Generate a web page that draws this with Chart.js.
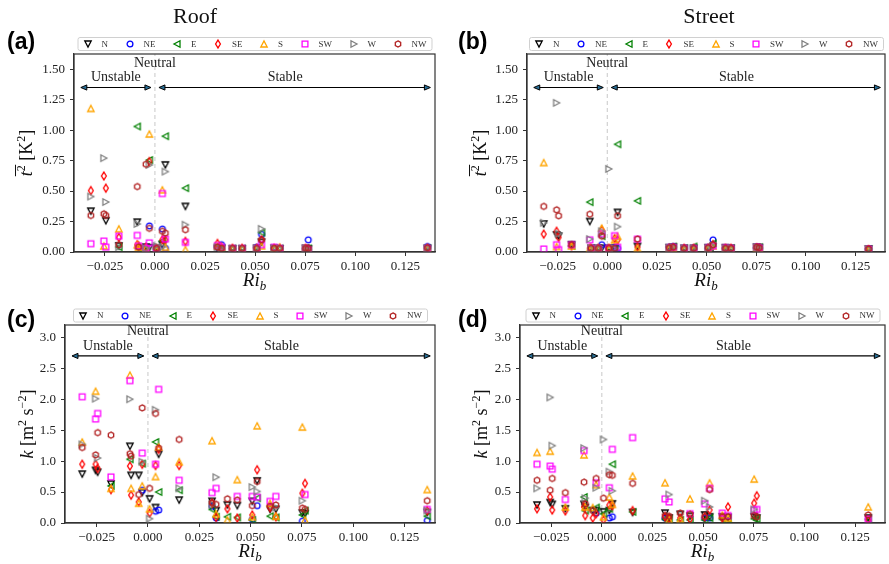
<!DOCTYPE html>
<html><head><meta charset="utf-8">
<script src="https://cdn.jsdelivr.net/npm/chart.js@4.4.0/dist/chart.umd.min.js"></script>
<style>
html,body{margin:0;padding:0;background:#fff;}
#wrap{position:relative;width:889px;height:564px;overflow:hidden;background:#fff;}
#wrap canvas{position:absolute;left:0;top:0;}
</style></head><body><div id="wrap">
<canvas id="pa" width="889" height="564"></canvas>
<canvas id="pb" width="889" height="564"></canvas>
<canvas id="pc" width="889" height="564"></canvas>
<canvas id="pd" width="889" height="564"></canvas>
</div>
<script>
// ---------- DATA ----------
const directions = ['N','NE','E','SE','S','SW','W','NW'];
// bulk Richardson number of each case
const riRoof   = [-0.032,-0.0255,-0.0245,-0.018,-0.0088,-0.0082,-0.0045,-0.0028,0.0008,0.0037,0.0052,0.0152,0.0312,0.0332,0.0387,0.0435,0.0508,0.0532,0.0595,0.0623,0.0752,0.0765,0.136];
const riStreet = [-0.032,-0.0255,-0.0245,-0.018,-0.0088,-0.0082,-0.0045,-0.0028,0.0008,0.0037,0.0052,0.0152,0.0312,0.0332,0.0387,0.0435,0.0508,0.0532,0.0595,0.0623,0.0752,0.0765,0.1315];
const xTicks  = [-0.025, 0, 0.025, 0.05, 0.075, 0.1, 0.125];
const yTicksT = [0, 0.25, 0.5, 0.75, 1, 1.25, 1.5];
const yTicksK = [0, 0.5, 1, 1.5, 2, 2.5, 3];

// (a) Roof temperature variance [K^2]
const tRoofN  = [0.335,null,0.256,0.05,0.245,null,0.04,0.035,0.03,0.06,0.715,0.374,0.03,0.03,0.025,0.025,0.03,0.08,0.03,0.025,0.03,0.025,0.03];
const tRoofNE = [null,null,null,null,null,null,0.02,0.214,0.02,0.188,0.03,null,0.04,0.06,0.025,0.025,0.04,0.145,0.03,0.025,0.025,0.10,0.045];
const tRoofE  = [null,null,null,0.04,1.03,0.03,0.03,0.755,0.03,0.09,0.95,0.524,0.04,0.03,0.03,0.03,0.035,0.16,0.03,0.03,0.03,0.03,0.03];
const tRoofSE = [0.504,0.624,0.524,0.12,0.06,0.05,0.04,0.742,0.03,0.1,0.1,0.087,0.07,0.04,0.03,0.03,0.03,0.1,0.03,0.03,0.03,0.02,0.03];
const tRoofS  = [1.178,0.05,null,0.19,0.06,0.04,0.03,0.968,0.02,0.51,0.04,0.02,0.05,0.04,0.03,0.03,0.03,0.05,0.03,0.04,0.03,0.02,0.03];
const tRoofSW = [0.068,0.09,0.04,0.13,0.136,0.05,0.03,0.075,0.03,0.48,0.106,0.079,0.053,0.04,0.03,0.03,0.03,0.06,0.04,0.03,0.03,0.02,0.03];
const tRoofW  = [0.455,0.77,0.41,0.04,0.23,null,0.03,0.715,0.05,0.04,0.66,0.224,0.04,0.03,0.03,0.03,0.03,0.19,0.03,0.03,0.03,0.02,0.03];
const tRoofNW = [0.30,0.313,0.30,0.06,0.537,0.04,0.72,0.194,0.03,0.17,0.155,0.183,0.04,0.03,0.03,0.03,0.03,0.1,0.03,0.03,0.03,0.03,0.035];

// (b) Street temperature variance [K^2]
const tStreetN  = [0.23,0.14,0.13,0.06,0.25,0.03,0.03,0.03,0.03,0.03,0.325,0.046,0.035,0.04,0.03,0.03,0.035,0.04,0.035,0.03,0.04,0.035,0.025];
const tStreetNE = [null,null,null,null,null,0.03,0.03,0.06,0.03,0.04,0.03,null,0.04,0.045,0.03,0.03,0.035,0.10,0.03,0.03,0.035,0.03,0.025];
const tStreetE  = [null,null,null,0.05,0.409,0.03,0.03,0.13,0.03,0.04,0.884,0.42,0.04,0.045,0.03,0.045,0.03,0.07,0.03,0.03,0.035,0.04,0.025];
const tStreetSE = [0.147,0.17,0.12,0.05,0.03,0.03,0.03,0.18,0.03,0.11,0.10,0.04,0.03,0.035,0.03,0.03,0.03,0.06,0.03,0.03,0.035,0.03,0.02];
const tStreetS  = [0.734,0.045,null,0.05,0.03,0.03,0.03,0.196,0.03,0.10,0.13,0.03,0.03,0.03,0.025,0.025,0.03,0.05,0.025,0.025,0.03,0.03,0.02];
const tStreetSW = [0.025,0.06,0.02,0.06,0.10,0.03,0.03,0.15,0.03,0.134,0.04,0.106,0.035,0.04,0.03,0.03,0.035,0.05,0.035,0.03,0.04,0.035,0.025];
const tStreetW  = [0.24,1.224,0.15,null,0.106,0.03,0.03,0.17,0.682,0.03,0.208,null,0.035,0.04,0.03,0.03,0.03,0.05,0.03,0.03,0.04,0.035,0.025];
const tStreetNW = [0.374,0.346,0.297,0.06,0.31,0.03,0.03,0.13,0.03,0.03,0.297,0.106,0.035,0.04,0.03,0.03,0.035,0.06,0.03,0.03,0.04,0.035,0.025];

// (c) Roof turbulent kinetic energy [m^2 s^-2]
const kRoofN  = [0.79,0.85,0.82,0.63,1.24,0.77,0.77,0.49,0.39,0.25,1.11,0.37,0.35,0.20,0.29,0.28,0.35,0.68,0.22,0.22,0.16,0.15,0.17];
const kRoofNE = [null,null,null,null,null,null,null,0.53,null,0.19,0.21,null,0.27,0.08,null,null,0.06,0.28,null,null,0.03,null,0.04];
const kRoofE  = [null,null,null,0.60,1.03,null,null,0.96,null,1.31,0.50,0.53,0.22,0.10,0.10,0.09,0.05,0.40,0.11,0.09,0.13,0.20,0.11];
const kRoofSE = [0.95,0.95,0.88,0.54,0.92,0.45,0.34,0.95,0.16,0.93,1.19,0.93,0.32,0.09,0.23,0.08,0.13,0.86,0.25,0.10,0.48,0.64,0.20];
const kRoofS  = [1.31,2.13,null,0.56,2.39,0.56,0.32,0.60,0.23,0.75,1.23,0.99,1.33,0.15,0.05,0.70,0.10,1.57,0.32,0.11,1.55,0.05,0.54];
const kRoofSW = [2.04,1.68,1.77,0.745,2.30,null,null,1.13,null,0.95,2.16,0.69,0.49,0.56,null,0.43,0.43,0.42,0.35,0.43,null,0.46,0.22];
const kRoofW  = [1.27,2.01,1.05,null,2.00,null,null,0.99,0.07,1.83,null,0.56,0.30,0.74,null,null,0.58,0.51,null,0.25,0.36,null,0.20];
const kRoofNW = [1.22,1.10,1.46,1.42,1.12,1.08,0.46,1.86,0.56,1.77,1.21,1.35,0.33,0.30,0.39,0.37,0.28,0.67,0.27,0.29,0.24,0.22,0.36];

// (d) Street turbulent kinetic energy [m^2 s^-2]
const kStreetN  = [0.29,0.33,0.30,0.23,0.30,0.25,0.20,0.20,0.18,0.20,0.31,0.17,0.16,0.08,0.14,0.11,0.13,0.10,0.10,0.09,0.10,0.08,0.08];
const kStreetNE = [null,null,null,null,null,null,null,0.16,null,0.08,0.10,null,0.08,null,null,null,0.08,0.08,null,null,null,null,null];
const kStreetE  = [null,null,null,null,0.42,0.20,null,0.25,0.15,0.23,0.95,0.18,0.06,0.06,0.05,0.05,0.05,0.08,0.06,0.06,0.07,0.06,0.06];
const kStreetSE = [0.23,0.42,0.21,0.195,0.26,0.12,0.08,0.15,0.05,0.29,0.28,0.20,0.10,0.07,0.08,0.06,0.10,0.21,0.08,0.26,0.32,0.44,0.05];
const kStreetS  = [1.14,1.16,null,0.26,1.10,0.26,0.25,0.62,0.10,0.42,0.30,0.76,0.65,0.05,0.06,0.39,null,0.65,0.13,0.08,0.71,null,0.26];
const kStreetSW = [0.95,0.92,0.87,0.38,1.17,null,null,0.65,null,0.57,1.19,1.38,0.39,0.34,null,0.15,0.31,0.56,0.16,0.12,0.21,0.22,0.06];
const kStreetW  = [0.56,2.03,1.25,null,1.21,0.40,null,0.57,1.35,0.83,0.52,null,null,0.46,null,null,0.36,0.26,null,null,0.22,null,null];
const kStreetNW = [0.69,0.53,0.72,0.49,0.66,0.31,0.20,0.72,0.40,0.78,0.77,0.64,0.12,0.11,0.16,0.14,0.10,0.54,0.10,0.10,0.12,0.10,0.13];

// ---------- STYLE ----------
const SERIF = '"Liberation Serif","Times New Roman",serif';
const colors = ['#000000','#0000ff','#008000','#ff0000','#ffa500','#ff00ff','#808080','#b22222'];
const shapes = ['tri-down','circle','tri-left','thin-diamond','tri-up','square','tri-right','hexagon'];

function makeMarker(shape, color) {
  const s = 12, m = 6;
  const c = document.createElement('canvas'); c.width = s; c.height = s;
  const g = c.getContext('2d');
  g.strokeStyle = color; g.lineWidth = 1.3; g.lineJoin = 'miter';
  g.beginPath();
  if (shape === 'tri-down') { g.moveTo(m-3.2,m-3); g.lineTo(m+3.2,m-3); g.lineTo(m,m+3); g.closePath(); }
  else if (shape === 'tri-up') { g.moveTo(m-3.2,m+3); g.lineTo(m+3.2,m+3); g.lineTo(m,m-3); g.closePath(); }
  else if (shape === 'tri-left') { g.moveTo(m+3,m-3.2); g.lineTo(m+3,m+3.2); g.lineTo(m-3,m); g.closePath(); }
  else if (shape === 'tri-right') { g.moveTo(m-3,m-3.2); g.lineTo(m-3,m+3.2); g.lineTo(m+3,m); g.closePath(); }
  else if (shape === 'circle') { g.arc(m,m,2.9,0,Math.PI*2); }
  else if (shape === 'square') { g.rect(m-2.9,m-2.9,5.8,5.8); }
  else if (shape === 'thin-diamond') { g.moveTo(m,m-3.9); g.lineTo(m+2.4,m); g.lineTo(m,m+3.9); g.lineTo(m-2.4,m); g.closePath(); }
  else if (shape === 'hexagon') {
    for (let k = 0; k < 6; k++) { const a = -Math.PI/2 + k*Math.PI/3; const px = m+3.1*Math.cos(a), py = m+3.1*Math.sin(a); if (k) g.lineTo(px,py); else g.moveTo(px,py); }
    g.closePath();
  }
  g.stroke();
  return c;
}
const markers = shapes.map((s,i) => makeMarker(s, colors[i]));

const XMIN = -0.0404, XMAX = 0.1398;
const YW = 50, XH = 30;
const panels = {
  pa: {L:74, T:54, R:435, B:252, xs:riRoof,   series:[tRoofN,tRoofNE,tRoofE,tRoofSE,tRoofS,tRoofSW,tRoofW,tRoofNW],
       yTicks:yTicksT, yMax:1.625, dec:2, ann:[1.35,1.43,1.55], tag:'(a)', tagX:7, tagY:49, title:'Roof', titleX:195, legendY:44, ylab:'t', ylabX:32},
  pb: {L:527, T:54, R:888, B:252, xs:riStreet, series:[tStreetN,tStreetNE,tStreetE,tStreetSE,tStreetS,tStreetSW,tStreetW,tStreetNW],
       yTicks:yTicksT, yMax:1.625, dec:2, ann:[1.35,1.43,1.55], tag:'(b)', tagX:458, tagY:49, title:'Street', titleX:709, legendY:44, ylab:'t', ylabX:486},
  pc: {L:65, T:325, R:435, B:523, xs:riRoof,   series:[kRoofN,kRoofNE,kRoofE,kRoofSE,kRoofS,kRoofSW,kRoofW,kRoofNW],
       yTicks:yTicksK, yMax:3.2, dec:1, ann:[2.7,2.86,3.1], tag:'(c)', tagX:7, tagY:327, title:null, legendY:315.5, ylab:'k', ylabX:33},
  pd: {L:520, T:325, R:888, B:523, xs:riStreet, series:[kStreetN,kStreetNE,kStreetE,kStreetSE,kStreetS,kStreetSW,kStreetW,kStreetNW],
       yTicks:yTicksK, yMax:3.2, dec:1, ann:[2.7,2.86,3.1], tag:'(d)', tagX:458, tagY:327, title:null, legendY:315.5, ylab:'k', ylabX:487}
};
const arrowUnstable = [-0.037, -0.002];
const arrowStable = [0.002, 0.1375];

function fmtNum(v, d) { return (v < 0 ? '\u2212' : '') + Math.abs(v).toFixed(d); }

function drawRich(ctx, segs, x, y, rotate) {
  ctx.save();
  ctx.translate(x, y);
  if (rotate) ctx.rotate(-Math.PI/2);
  let w = 0;
  segs.forEach(s => { ctx.font = s.font; s.w = ctx.measureText(s.t).width; w += s.w; });
  let cx = -w/2, oS = null, oE = null;
  ctx.textAlign = 'left'; ctx.textBaseline = 'alphabetic'; ctx.fillStyle = '#111';
  segs.forEach(s => {
    ctx.font = s.font; ctx.fillText(s.t, cx, s.dy || 0);
    if (s.over) { if (oS === null) oS = cx; oE = cx + s.w; }
    cx += s.w;
  });
  if (oS !== null) {
    ctx.strokeStyle = '#111'; ctx.lineWidth = 1;
    ctx.beginPath(); ctx.moveTo(oS, -16.5); ctx.lineTo(oE + 0.5, -16.5); ctx.stroke();
  }
  ctx.restore();
}

function arrowHead(ctx, tip, y, dir) {
  ctx.beginPath();
  ctx.moveTo(tip, y); ctx.lineTo(tip + dir*6, y - 2.6); ctx.lineTo(tip + dir*6, y + 2.6); ctx.closePath();
  ctx.fillStyle = '#2a6f97'; ctx.fill();
  ctx.lineWidth = 1; ctx.strokeStyle = '#000'; ctx.stroke();
}
function drawArrow(ctx, x1, x2, y) {
  ctx.strokeStyle = '#000'; ctx.lineWidth = 1.2;
  ctx.beginPath(); ctx.moveTo(x1 + 3, y); ctx.lineTo(x2 - 3, y); ctx.stroke();
  arrowHead(ctx, x1, y, 1); arrowHead(ctx, x2, y, -1);
}

function drawLegend(ctx, cx, cy) {
  ctx.save();
  ctx.font = '9px ' + SERIF;
  const widths = directions.map(d => ctx.measureText(d).width);
  const mt = 14, gap = 21.5;
  let total = 0;
  directions.forEach((d, i) => { total += mt + widths[i]; if (i < directions.length - 1) total += gap; });
  const boxW = total + 15, boxL = cx - boxW/2;
  ctx.beginPath();
  if (ctx.roundRect) ctx.roundRect(boxL + 0.5, cy - 6.5, boxW, 13, 2); else ctx.rect(boxL + 0.5, cy - 6.5, boxW, 13);
  ctx.fillStyle = '#fff'; ctx.fill();
  ctx.strokeStyle = '#d0d0d0'; ctx.lineWidth = 1; ctx.stroke();
  let x = boxL + 10;
  ctx.textAlign = 'left'; ctx.textBaseline = 'middle'; ctx.fillStyle = '#333';
  directions.forEach((d, i) => {
    ctx.drawImage(markers[i], Math.round(x) - 6, Math.round(cy) - 6);
    ctx.fillText(d, x + mt, cy + 0.5);
    x += mt + widths[i] + gap;
  });
  ctx.restore();
}

const decoPlugin = {
  id: 'deco',
  beforeDatasetsDraw(chart) {
    const {ctx, chartArea: a, scales: {x}} = chart;
    const px = x.getPixelForValue(0);
    ctx.save();
    ctx.strokeStyle = '#c8c8c8'; ctx.lineWidth = 1; ctx.setLineDash([4, 3]);
    ctx.beginPath(); ctx.moveTo(px, a.bottom); ctx.lineTo(px, a.top); ctx.stroke();
    ctx.restore();
  },
  afterDatasetsDraw(chart) {
    const P = panels[chart.canvas.id];
    const {ctx, scales: {x, y}} = chart;
    ctx.save();
    const ya = y.getPixelForValue(P.ann[0]);
    drawArrow(ctx, x.getPixelForValue(arrowUnstable[0]), x.getPixelForValue(arrowUnstable[1]), ya);
    drawArrow(ctx, x.getPixelForValue(arrowStable[0]), x.getPixelForValue(arrowStable[1]), ya);
    ctx.fillStyle = '#222'; ctx.font = '14px ' + SERIF; ctx.textAlign = 'center'; ctx.textBaseline = 'middle';
    ctx.fillText('Unstable', x.getPixelForValue((arrowUnstable[0] + arrowUnstable[1]) / 2), y.getPixelForValue(P.ann[1]));
    ctx.fillText('Stable', x.getPixelForValue(0.065), y.getPixelForValue(P.ann[1]));
    ctx.fillText('Neutral', x.getPixelForValue(0), y.getPixelForValue(P.ann[2]));
    ctx.restore();
  },
  afterDraw(chart) {
    const P = panels[chart.canvas.id];
    const {ctx, chartArea: a} = chart;
    ctx.save();
    ctx.strokeStyle = '#333'; ctx.lineWidth = 1.2;
    ctx.strokeRect(a.left, a.top, a.right - a.left, a.bottom - a.top);
    drawLegend(ctx, (a.left + a.right) / 2, P.legendY);
    // panel tag
    ctx.fillStyle = '#000'; ctx.font = 'bold 23px "Liberation Sans", Arial, sans-serif';
    ctx.textAlign = 'left'; ctx.textBaseline = 'alphabetic';
    ctx.fillText(P.tag, P.tagX, P.tagY);
    if (P.title) {
      ctx.font = '22px ' + SERIF; ctx.textAlign = 'center'; ctx.fillStyle = '#111';
      ctx.fillText(P.title, P.titleX, 22.5);
    }
    // x title Ri_b
    drawRich(ctx, [
      {t: 'Ri', font: 'italic 19px ' + SERIF},
      {t: 'b', font: 'italic 13px ' + SERIF, dy: 4}
    ], (a.left + a.right) / 2, a.bottom + 34, false);
    // y title
    const cy = (a.top + a.bottom) / 2;
    if (P.ylab === 't') {
      drawRich(ctx, [
        {t: 't', font: 'italic 18px ' + SERIF, over: true},
        {t: '2', font: '12px ' + SERIF, dy: -7, over: true},
        {t: ' [K', font: '18px ' + SERIF},
        {t: '2', font: '12px ' + SERIF, dy: -7},
        {t: ']', font: '18px ' + SERIF}
      ], P.ylabX, cy, true);
    } else {
      drawRich(ctx, [
        {t: 'k', font: 'italic 18px ' + SERIF},
        {t: ' [m', font: '18px ' + SERIF},
        {t: '2', font: '12px ' + SERIF, dy: -7},
        {t: ' s', font: '18px ' + SERIF},
        {t: '\u22122', font: '12px ' + SERIF, dy: -7},
        {t: ']', font: '18px ' + SERIF}
      ], P.ylabX, cy, true);
    }
    ctx.restore();
  }
};

function buildPanel(id) {
  const P = panels[id];
  const datasets = directions.map((d, i) => ({
    label: d,
    data: P.xs.map((xv, j) => ({x: xv, y: P.series[i][j]})).filter(p => p.y !== null),
    pointStyle: markers[i],
    pointRadius: 3, pointHoverRadius: 3,
    borderColor: colors[i], backgroundColor: 'transparent',
    showLine: false,
    order: directions.length - 1 - i
  }));
  const tickFont = {family: SERIF, size: 13};
  new Chart(document.getElementById(id), {
    type: 'scatter',
    data: {datasets},
    options: {
      responsive: false, animation: false, events: [],
      layout: {padding: {left: P.L - YW, top: P.T, right: 889 - P.R, bottom: 564 - P.B - XH}},
      scales: {
        x: {
          type: 'linear', bounds: 'data', min: XMIN, max: XMAX,
          afterFit(s) { s.height = XH; },
          afterBuildTicks(s) { s.ticks = xTicks.map(v => ({value: v})); },
          ticks: {callback: v => fmtNum(v, 3), font: tickFont, color: '#222', padding: 3, maxRotation: 0, autoSkip: false},
          grid: {drawOnChartArea: false, drawTicks: true, tickLength: 4, color: '#333', lineWidth: 1},
          border: {display: true, color: '#333', width: 1.2}
        },
        y: {
          type: 'linear', bounds: 'data', min: 0, max: P.yMax,
          afterFit(s) { s.width = YW; },
          afterBuildTicks(s) { s.ticks = P.yTicks.map(v => ({value: v})); },
          ticks: {callback: v => fmtNum(v, P.dec), font: tickFont, color: '#222', padding: 5, autoSkip: false},
          grid: {drawOnChartArea: false, drawTicks: true, tickLength: 4, color: '#333', lineWidth: 1},
          border: {display: true, color: '#333', width: 1.2}
        }
      },
      plugins: {legend: {display: false}, tooltip: {enabled: false}, title: {display: false}}
    },
    plugins: [decoPlugin]
  });
}
['pa','pb','pc','pd'].forEach(buildPanel);
</script>
</body></html>
